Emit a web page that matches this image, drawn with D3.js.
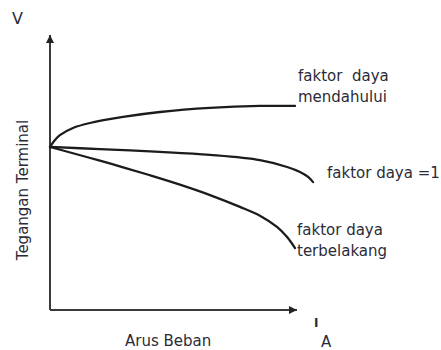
<!DOCTYPE html>
<html>
<head>
<meta charset="utf-8">
<script src="https://cdn.jsdelivr.net/npm/d3@7"></script>
<style>
  html, body { margin: 0; padding: 0; background: #fff; }
  svg { display: block; }
  text { font-family: "DejaVu Sans", Verdana, sans-serif; fill: #2b2b38; }
</style>
</head>
<body>
<svg id="chart" width="441" height="350"></svg>
<script>
// Normalised load current (0-100) and terminal voltage (0-100)
const leadingX = [0, 2.0, 4.0, 9.3, 16.2, 29.6, 44.5, 64.8, 85.0, 99.2];
const leadingV = [59.3, 61.8, 63.6, 66.2, 68.0, 70.2, 72.0, 73.5, 74.2, 74.2];

const unityX = [0, 20.2, 44.5, 64.8, 85.0, 96.0, 101.2, 104.5, 106.5];
const unityV = [59.3, 58.5, 57.5, 56.4, 54.5, 52.0, 50.2, 48.4, 46.5];

const laggingX = [0, 9.3, 20.2, 29.6, 40.5, 52.6, 64.8, 76.9, 85.0, 91.9, 95.9, 99.2];
const laggingV = [59.3, 57.0, 54.3, 51.9, 49.0, 45.6, 41.8, 37.5, 34.3, 30.2, 26.6, 22.5];

const seriesLabels = [
  ["faktor  daya", "mendahului"],
  ["faktor daya =1"],
  ["faktor daya", "terbelakang"]
];

const yAxisSymbol = "V";
const yAxisTitle = "Tegangan Terminal";
const xAxisTitle = "Arus Beban";
const xAxisSymbol = "I";
const xAxisSub = "A";

const svg = d3.select("#chart");
const x = d3.scaleLinear().domain([0, 100]).range([50, 297]);
const y = d3.scaleLinear().domain([0, 100]).range([310, 35]);

const defs = svg.append("defs");
defs.append("marker")
  .attr("id", "arrow")
  .attr("viewBox", "0 0 10 10")
  .attr("refX", 10).attr("refY", 5)
  .attr("markerWidth", 4.5).attr("markerHeight", 4)
  .attr("markerUnits", "strokeWidth")
  .attr("orient", "auto")
  .append("path").attr("d", "M0,0L10,5L0,10Z").attr("fill", "#222");

// axes
svg.append("line")
  .attr("x1", x(0)).attr("y1", y(0))
  .attr("x2", x(0)).attr("y2", y(100))
  .attr("stroke", "#3a3a3a").attr("stroke-width", 2)
  .attr("marker-end", "url(#arrow)");
svg.append("line")
  .attr("x1", x(0)).attr("y1", y(0))
  .attr("x2", x(100)).attr("y2", y(0))
  .attr("stroke", "#3a3a3a").attr("stroke-width", 2)
  .attr("marker-end", "url(#arrow)");

const line = d3.line()
  .x(d => x(d[0])).y(d => y(d[1]))
  .curve(d3.curveCatmullRom.alpha(0.5));

const series = [
  d3.zip(leadingX, leadingV),
  d3.zip(unityX, unityV),
  d3.zip(laggingX, laggingV)
];

svg.selectAll("path.curve").data(series).join("path")
  .attr("class", "curve")
  .attr("d", line)
  .attr("fill", "none")
  .attr("stroke", "#1c1c1c")
  .attr("stroke-width", 2.3)
  .attr("stroke-linecap", "round");

// series labels
const labelPos = [[298, 81], [327, 178], [297, 235]];
seriesLabels.forEach((lines, i) => {
  const t = svg.append("text")
    .attr("x", labelPos[i][0]).attr("y", labelPos[i][1])
    .style("font-size", "15px")
    .style("white-space", "pre");
  lines.forEach((s, j) => {
    t.append("tspan")
      .attr("x", labelPos[i][0])
      .attr("dy", j === 0 ? 0 : 21)
      .text(s);
  });
});

// axis titles
svg.append("text").attr("x", 12).attr("y", 24)
  .style("font-size", "16px").text(yAxisSymbol);

svg.append("text")
  .attr("transform", "translate(28,190) rotate(-90)")
  .attr("text-anchor", "middle")
  .style("font-size", "15px")
  .text(yAxisTitle);

svg.append("text").attr("x", 125).attr("y", 346)
  .style("font-size", "15px").text(xAxisTitle);

svg.append("text").attr("x", 314).attr("y", 327)
  .style("font-size", "12px").style("font-weight", "bold").text(xAxisSymbol);
svg.append("text").attr("x", 321).attr("y", 347)
  .style("font-size", "15px").text(xAxisSub);
</script>
</body>
</html>
